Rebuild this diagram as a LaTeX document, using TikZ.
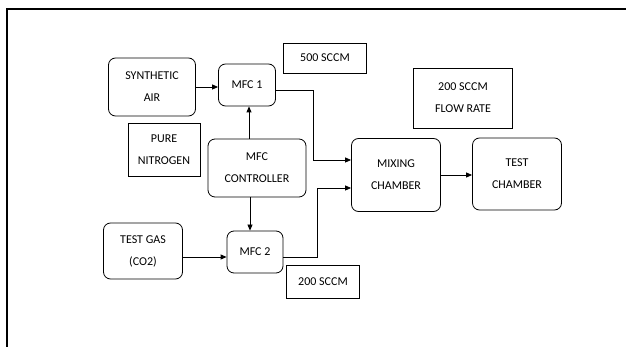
\documentclass[tikz,border=0pt]{standalone}
\usepackage{fontspec}
\setmainfont{Carlito}
\usetikzlibrary{arrows.meta}

\tikzset{
  blk/.style={draw, rounded corners=7pt, align=center, inner sep=0pt},
  lbl/.style={draw, align=center, inner sep=0pt},
  flow/.style={-{Triangle[length=6pt,width=5pt]}},
}

\begin{document}
\begin{tikzpicture}[x=1pt, y=-1pt, line width=0.8pt,
    font=\fontsize{12}{22}\selectfont]

    \useasboundingbox (0,0) rectangle (626,347);
    \draw[line width=2pt] (626,9) -| (7,347);

    % sources and flow controllers
    \node[blk, minimum width=87, minimum height=58] (air) at (152,87) {SYNTHETIC\\AIR};
    \node[blk, minimum width=57, minimum height=42] (mfc1) at (247,85) {MFC 1};
    \node[lbl, minimum width=72, minimum height=53] (n2) at (164,150) {PURE\\NITROGEN};
    \node[blk, minimum width=98, minimum height=58] (ctrl) at (257,168) {MFC\\CONTROLLER};
    \node[blk, minimum width=79, minimum height=56] (gas) at (143,251) {TEST GAS\\(CO2)};
    \node[blk, minimum width=56, minimum height=42] (mfc2) at (255,252) {MFC 2};

    % chambers
    \node[blk, minimum width=89, minimum height=73] (mix) at (396,175) {MIXING\\CHAMBER};
    \node[blk, minimum width=89, minimum height=72] (test) at (517,174) {TEST\\CHAMBER};

    % rates
    \node[lbl, minimum width=83, minimum height=30] (r500) at (325,58) {500 SCCM};
    \node[lbl, minimum width=99, minimum height=60] (rflow) at (463,98) {200 SCCM\\FLOW RATE};
    \node[lbl, minimum width=73, minimum height=33] (r200) at (323,282) {200 SCCM};

    \draw[flow] (air.east) -- (air.east -| mfc1.west);
    \draw[flow] ([yshift=-6pt]gas.east) -- ([yshift=-6pt]gas.east -| mfc2.west);
    \draw[flow] ([xshift=-8pt]ctrl.north) -- ([xshift=-8pt]ctrl.north |- mfc1.south);
    \draw[flow] ([xshift=-7pt]ctrl.south) -- ([xshift=-7pt]ctrl.south |- mfc2.north);
    \draw[flow] ([yshift=-5pt]mfc1.east) -- ++(37,0) |- ([yshift=15pt]mix.west);
    \draw[flow] ([yshift=-5pt]mfc2.east) -- ++(34,0) |- ([yshift=-13pt]mix.west);
    \draw[flow] (mix.east) -- (mix.east -| test.west);

\end{tikzpicture}
\end{document}
